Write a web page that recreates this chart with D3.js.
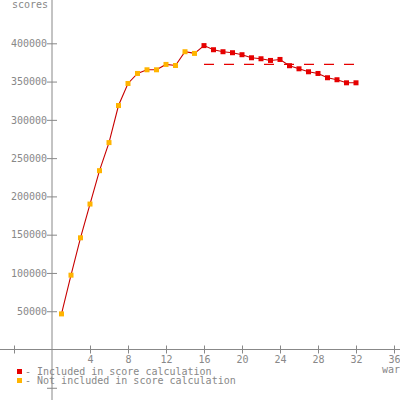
<!DOCTYPE html>
<html><head><meta charset="utf-8">
<script src="https://cdn.jsdelivr.net/npm/d3@7"></script>
<style>
html,body{margin:0;padding:0;background:#fff;}
svg{display:block;}
text{font-family:"DejaVu Sans Mono",monospace;font-size:10px;fill:#888;}
</style></head><body>
<div id="chart"></div>
<script>
const wars = [1,2,3,4,5,6,7,8,9,10,11,12,13,14,15,16,17,18,19,20,21,22,23,24,25,26,27,28,29,30,31,32];
const scores = [46500,97100,145900,190000,233600,270300,318700,347500,360600,365400,365400,372400,371000,389000,386800,397000,391600,389000,387700,385100,381100,379800,377600,378900,370700,366700,362800,360600,355000,352400,348400,348400];
const included = [false,false,false,false,false,false,false,false,false,false,false,false,false,false,false,true,true,true,true,true,true,true,true,true,true,true,true,true,true,true,true,true];
const averageScore = 372400;
const averageRange = [16, 32];
const xTicks = [-4,4,8,12,16,20,24,28,32,36];
const yTicks = [-50000,50000,100000,150000,200000,250000,300000,350000,400000];
const legendLabels = ["- Included in score calculation","- Not included in score calculation"];
const colIncluded = "#e60000", colExcluded = "#ffb400", colLine = "#c80000", colAxis = "#888";

const W=400,H=400;
const svg = d3.select("#chart").append("svg").attr("width",W).attr("height",H);
const x = d3.scaleLinear().domain([0,36]).range([52,394]);
const y = d3.scaleLinear().domain([0,400000]).range([349.5,43.3]);

// axes lines
svg.append("line").attr("x1",0).attr("x2",W).attr("y1",y(0)).attr("y2",y(0)).attr("stroke",colAxis);
svg.append("line").attr("x1",x(0)).attr("x2",x(0)).attr("y1",0).attr("y2",H).attr("stroke",colAxis);

// x ticks
const xa = svg.append("g").attr("transform",`translate(0,${y(0)})`)
  .call(d3.axisBottom(x).tickValues(xTicks).tickSize(4).tickFormat(d=>d<0?"":d));
xa.select(".domain").remove();
xa.selectAll(".tick line").attr("stroke",colAxis).attr("y1",-4).attr("y2",4);
xa.selectAll(".tick text").attr("y",6).attr("fill","#888").style("font-family","DejaVu Sans Mono").style("font-size","10px");

// y ticks
const ya = svg.append("g").attr("transform",`translate(${x(0)},0)`)
  .call(d3.axisLeft(y).tickValues(yTicks).tickSize(5).tickFormat(d=>d<0?"":d));
ya.select(".domain").remove();
ya.selectAll(".tick line").attr("stroke",colAxis).attr("x1",-5).attr("x2",5);
ya.selectAll(".tick text").attr("x",-5).attr("fill","#888").style("font-family","DejaVu Sans Mono").style("font-size","10px");

// axis titles
svg.append("text").attr("x",12).attr("y",8).text("scores");
svg.append("text").attr("x",382).attr("y",373).text("wars");

// average dashed line
svg.append("line").attr("x1",x(averageRange[0])).attr("x2",x(averageRange[1]))
  .attr("y1",y(averageScore)).attr("y2",y(averageScore))
  .attr("stroke",colIncluded).attr("stroke-width",1.2).attr("stroke-dasharray","10,10");

// line
const data = wars.map((w,i)=>({w,s:scores[i],inc:included[i]}));
svg.append("path").datum(data).attr("fill","none").attr("stroke",colLine).attr("stroke-width",1.1)
  .attr("d",d3.line().x(d=>x(d.w)).y(d=>y(d.s)));

// markers
svg.selectAll("rect.pt").data(data).enter().append("rect").attr("class","pt")
  .attr("x",d=>x(d.w)-2.5).attr("y",d=>y(d.s)-2.5).attr("width",5).attr("height",5)
  .attr("fill",d=>d.inc?colIncluded:colExcluded);

// legend
const leg = svg.append("g");
[colIncluded,colExcluded].forEach((c,i)=>{
  leg.append("rect").attr("x",17).attr("y",369+i*9).attr("width",5).attr("height",5).attr("fill",c);
  leg.append("text").attr("x",25).attr("y",375+i*9).text(legendLabels[i]);
});
</script></body></html>
